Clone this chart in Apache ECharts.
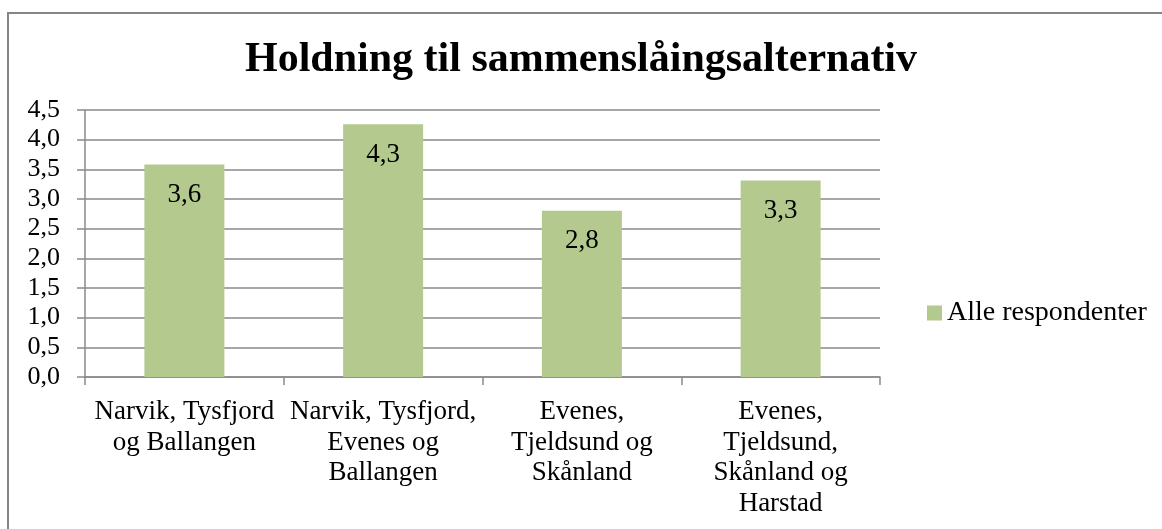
<!DOCTYPE html>
<html>
<head>
<meta charset="utf-8">
<title>Holdning til sammenslåingsalternativ</title>
<script src="https://cdn.jsdelivr.net/npm/echarts@6/dist/echarts.min.js"></script>
<style>
  html, body { margin: 0; padding: 0; background: #fff; }
  #chart { width: 1162px; height: 529px; }
</style>
</head>
<body>
<div id="chart"></div>
<script>
// Merger alternatives (category labels carry their own line breaks)
const categories = [
  'Narvik, Tysfjord\nog Ballangen',
  'Narvik, Tysfjord,\nEvenes og\nBallangen',
  'Evenes,\nTjeldsund og\nSkånland',
  'Evenes,\nTjeldsund,\nSkånland og\nHarstad'
];
const seriesName = 'Alle respondenter';
const values = [3.58, 4.26, 2.8, 3.31];
const yTicks = [0, 0.5, 1, 1.5, 2, 2.5, 3, 3.5, 4, 4.5];

const FONT = '"Liberation Serif", "DejaVu Serif", serif';
const GRID_COLOR = '#8a8a8a';
const BAR_COLOR = '#b3c98d';

const fmt = v => v.toFixed(1).replace('.', ',');

const chart = echarts.init(document.getElementById('chart'), null, { renderer: 'canvas' });
chart.setOption({
  animation: false,
  backgroundColor: '#fff',
  textStyle: { fontFamily: FONT, color: '#000' },
  title: {
    text: 'Holdning til sammenslåingsalternativ',
    left: 'center',
    top: 34,
    textStyle: { fontFamily: FONT, fontWeight: 'bold', fontSize: 42, color: '#000' }
  },
  graphic: [{
    type: 'rect',
    silent: true,
    shape: { x: 8, y: 13, width: 1200, height: 560 },
    style: { fill: null, stroke: '#868686', lineWidth: 2 }
  }],
  legend: {
    data: [seriesName],
    left: 922,
    top: 294,
    itemWidth: 15,
    itemHeight: 15,
    icon: 'rect',
    itemGap: 5,
    textStyle: { fontFamily: FONT, fontSize: 28, color: '#000' }
  },
  grid: { left: 85, right: 282, top: 110, bottom: 152, containLabel: false },
  xAxis: {
    type: 'category',
    data: categories,
    axisLine: { show: true, lineStyle: { color: GRID_COLOR, width: 1.5 } },
    axisTick: { show: true, length: 8, lineStyle: { color: GRID_COLOR, width: 1.5 } },
    axisLabel: {
      interval: 0,
      margin: 20,
      fontFamily: FONT,
      fontSize: 27,
      lineHeight: 30.5,
      color: '#000',
      align: 'center'
    }
  },
  yAxis: {
    type: 'value',
    min: yTicks[0],
    max: yTicks[yTicks.length - 1],
    interval: 0.5,
    axisLine: { show: true, lineStyle: { color: GRID_COLOR, width: 1.5 } },
    axisTick: { show: true, length: 8, lineStyle: { color: GRID_COLOR, width: 1.5 } },
    splitLine: { show: true, lineStyle: { color: GRID_COLOR, width: 1.5 } },
    axisLabel: {
      margin: 25,
      fontFamily: FONT,
      fontSize: 26,
      color: '#000',
      formatter: v => fmt(v)
    }
  },
  series: [{
    name: seriesName,
    type: 'bar',
    data: values,
    barWidth: 80,
    itemStyle: { color: BAR_COLOR },
    label: {
      show: true,
      position: 'insideTop',
      distance: 17,
      fontFamily: FONT,
      fontSize: 27,
      color: '#000',
      formatter: p => fmt(p.value)
    }
  }]
});
</script>
</body>
</html>
